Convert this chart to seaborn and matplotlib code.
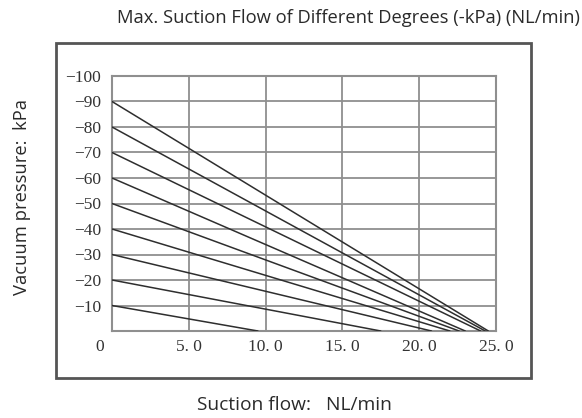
import matplotlib
matplotlib.use("Agg")
import matplotlib.pyplot as plt
from matplotlib.patches import Rectangle
import matplotlib.transforms as mtransforms
import seaborn as sns
import pandas as pd

# Starting vacuum level of each curve (kPa) and the flow where it reaches 0
start_pressure = [-10, -20, -30, -40, -50, -60, -70, -80, -90]
max_flow = [9.5, 17.5, 20.8, 22.0, 22.6, 23.0, 24.0, 24.3, 24.5]

x_ticks = [0, 5, 10, 15, 20, 25]
x_tick_labels = ["0", "5. 0", "10. 0", "15. 0", "20. 0", "25. 0"]
y_ticks = [-10, -20, -30, -40, -50, -60, -70, -80, -90, -100]
y_tick_labels = ["−10", "−20", "−30", "−40", "−50", "−60", "−70", "−80", "−90", "−100"]

title = "Max. Suction Flow of Different Degrees (-kPa) (NL/min)"
x_label = "Suction flow:   NL/min"
y_label = "Vacuum pressure:  kPa"

rows = []
for p, f in zip(start_pressure, max_flow):
    rows.append({"level": str(p), "flow": 0.0, "pressure": p})
    rows.append({"level": str(p), "flow": f, "pressure": 0.0})
df = pd.DataFrame(rows)

sns.set_style("white")
plt.rcParams["font.family"] = ["Open Sans", "DejaVu Sans"]

fig = plt.figure(figsize=(5.82, 4.18), dpi=100)
W, H = 582, 418

# framed panel around the plot
fig.patches.append(Rectangle((56 / W, 1 - 378 / H), 475 / W, 335 / H,
                             transform=fig.transFigure, fill=False,
                             edgecolor="#555555", linewidth=2.0, zorder=0))

ax = fig.add_axes([112 / W, 1 - 331 / H, 384 / W, 255 / H])

grid_color = "#8f8f8f"
sns.lineplot(data=df, x="flow", y="pressure", hue="level",
             palette=["#2e2e2e"] * len(start_pressure), legend=False,
             linewidth=1.1, ax=ax, zorder=3)

ax.set_xlim(0, 25)
ax.set_ylim(0, -100)
ax.set_xticks(x_ticks)
ax.set_xticklabels(x_tick_labels)
ax.set_yticks(y_ticks)
ax.set_yticklabels(y_tick_labels)
ax.grid(True, color=grid_color, linewidth=1.3)
ax.set_axisbelow(True)
for s in ax.spines.values():
    s.set_visible(True)
    s.set_color(grid_color)
    s.set_linewidth(1.5)

ax.tick_params(axis="both", length=0, labelsize=12.5, colors="#333333")
ax.tick_params(axis="x", pad=6)
ax.tick_params(axis="y", pad=8)
for lab in ax.get_xticklabels() + ax.get_yticklabels():
    lab.set_fontfamily(["Liberation Serif", "DejaVu Serif"])

# the origin label sits to the left of the corner
zero_lab = ax.get_xticklabels()[0]
zero_lab.set_transform(zero_lab.get_transform() +
                       mtransforms.ScaledTranslation(-12 / 100, 0, fig.dpi_scale_trans))

ax.set_xlabel("")
ax.set_ylabel("")

fig.text(348 / W, 1 - 18 / H, title, ha="center", va="center",
         fontsize=13.2, color="#2a2a2a")
fig.text(294 / W, 1 - 405 / H, x_label, ha="center", va="center",
         fontsize=13.8, color="#2a2a2a")
fig.text(22 / W, 1 - 197 / H, y_label, ha="center", va="center",
         rotation=90, fontsize=13.2, color="#2a2a2a")

fig.savefig("out.png", dpi=100)
